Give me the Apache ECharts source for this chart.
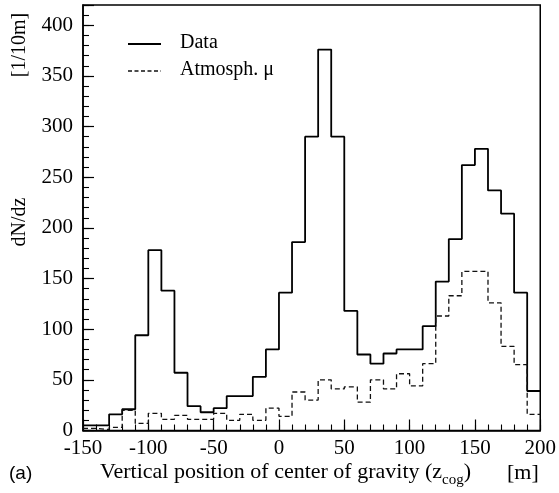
<!DOCTYPE html>
<html>
<head>
<meta charset="utf-8">
<script src="https://cdn.jsdelivr.net/npm/echarts@6/dist/echarts.min.js"></script>
<style>
  html, body { margin: 0; padding: 0; background: #fff; }
  #chart { width: 559px; height: 493px; }
</style>
</head>
<body>
<div id="chart"></div>
<script>
// Bin edges of the z_cog histogram (10 m bins)
const binEdges = [-150, -140, -130, -120, -110, -100, -90, -80, -70, -60, -50,
                  -40, -30, -20, -10, 0, 10, 20, 30, 40, 50, 60, 70, 80, 90,
                  100, 110, 120, 130, 140, 150, 160, 170, 180, 190, 200];

// Counts per bin: measured data
const dataCounts = [5, 5, 16, 21, 94, 178, 138, 57, 24, 18, 22, 34, 34, 53, 80,
                    136, 186, 290, 376, 290, 118, 75, 66, 76, 80, 80, 103, 147,
                    189, 262, 278, 237, 214, 136, 39];

// Counts per bin: atmospheric muon expectation
const atmoCounts = [2, 1, 3, 20, 7, 17, 11, 15, 11, 11, 17, 10, 16, 10, 22,
                    14, 38, 30, 50, 41, 43, 28, 50, 41, 56, 44, 66, 113,
                    133, 157, 157, 126, 83, 65, 16];

const xMajorTicks = [-150, -100, -50, 0, 50, 100, 150, 200];
const yMajorTicks = [0, 50, 100, 150, 200, 250, 300, 350, 400];
const seriesNames = ['Data', 'Atmosph. \u03bc'];

const SERIF = '"Liberation Serif", "Times New Roman", serif';

// Histogram outline: one point per left bin edge, plus the closing right edge
function histPoints(values) {
  const pts = values.map((v, i) => [binEdges[i], v]);
  pts.push([binEdges[binEdges.length - 1], values[values.length - 1]]);
  return pts;
}

const chart = echarts.init(document.getElementById('chart'), null, { renderer: 'canvas' });

const majorTick = { show: true, inside: true, length: 11, lineStyle: { color: '#000', width: 1.2 } };
const minorTick = { show: true, inside: true, length: 6, lineStyle: { color: '#000', width: 1.1 } };

const dataLine = { color: '#000', width: 1.8 };
const atmoLine = { color: '#111', width: 1.3, type: [5, 3] };

chart.setOption({
  animation: false,
  backgroundColor: '#fff',
  grid: {
    left: 83, right: 18, top: 5, bottom: 62.5,
    show: true, borderColor: '#000', borderWidth: 1.5, backgroundColor: 'transparent'
  },
  xAxis: [
    {
      type: 'value', min: -150, max: 200, interval: 50, position: 'bottom',
      axisLine: { show: true, onZero: false, lineStyle: { color: '#000', width: 1.5 } },
      axisTick: majorTick,
      axisLabel: {
        color: '#000', fontFamily: SERIF, fontSize: 21, margin: 7,
        formatter: v => (xMajorTicks.includes(v) ? String(v) : '')
      },
      splitLine: { show: false }
    },
    {
      type: 'value', min: -150, max: 200, interval: 10, position: 'bottom',
      axisLine: { show: false, onZero: false },
      axisTick: minorTick,
      axisLabel: { show: false },
      splitLine: { show: false }
    }
  ],
  yAxis: [
    {
      type: 'value', min: 0, max: 420, interval: 50, position: 'left',
      axisLine: { show: true, onZero: false, lineStyle: { color: '#000', width: 1.5 } },
      axisTick: majorTick,
      axisLabel: {
        color: '#000', fontFamily: SERIF, fontSize: 21, margin: 10,
        formatter: v => (yMajorTicks.includes(v) ? String(v) : '')
      },
      splitLine: { show: false }
    },
    {
      type: 'value', min: 0, max: 420, interval: 10, position: 'left',
      axisLine: { show: false, onZero: false },
      axisTick: minorTick,
      axisLabel: { show: false },
      splitLine: { show: false }
    }
  ],
  series: [
    {
      name: seriesNames[0], type: 'line', step: 'end', symbol: 'none',
      xAxisIndex: 0, yAxisIndex: 0,
      lineStyle: dataLine,
      data: histPoints(dataCounts)
    },
    {
      name: seriesNames[1], type: 'line', step: 'end', symbol: 'none',
      xAxisIndex: 0, yAxisIndex: 0,
      lineStyle: atmoLine,
      data: histPoints(atmoCounts)
    }
  ],
  graphic: [
    // key: line samples and series names
    {
      type: 'line', shape: { x1: 128, y1: 44, x2: 161, y2: 44 },
      style: { stroke: dataLine.color, lineWidth: dataLine.width }
    },
    {
      type: 'text', left: 180, top: 33,
      style: { text: seriesNames[0], fill: '#000', font: '20px "Liberation Serif", serif' }
    },
    {
      type: 'line', shape: { x1: 128, y1: 71, x2: 161, y2: 71 },
      style: { stroke: atmoLine.color, lineWidth: atmoLine.width, lineDash: [4, 2.5] }
    },
    {
      type: 'text', left: 180, top: 60,
      style: { text: seriesNames[1], fill: '#000', font: '20px "Liberation Serif", serif' }
    },
    // axis titles
    {
      type: 'text', left: 100, top: 461,
      style: {
        text: '{n|Vertical position of center of gravity (z}{s|cog}{n|)}',
        fill: '#000',
        rich: {
          n: { fontFamily: SERIF, fontSize: 22, lineHeight: 25, verticalAlign: 'top', fill: '#000' },
          s: { fontFamily: SERIF, fontSize: 15, lineHeight: 15, verticalAlign: 'top', padding: [12, 0, 0, 0], fill: '#000' }
        }
      }
    },
    {
      type: 'text', left: 9, top: 464,
      style: { text: '(a)', fill: '#000', font: '19px "Liberation Sans", Arial, sans-serif' }
    },
    {
      type: 'text', left: 507, top: 462,
      style: { text: '[m]', fill: '#000', font: '22px "Liberation Serif", serif' }
    },
    {
      type: 'text', x: 20, y: 222, rotation: Math.PI / 2,
      style: { text: 'dN/dz', fill: '#000', font: '20px "Liberation Serif", serif', align: 'center', verticalAlign: 'middle' }
    },
    {
      type: 'text', x: 20, y: 45, rotation: Math.PI / 2,
      style: { text: '[1/10m]', fill: '#000', font: '20px "Liberation Serif", serif', align: 'center', verticalAlign: 'middle' }
    }
  ]
});
</script>
</body>
</html>
